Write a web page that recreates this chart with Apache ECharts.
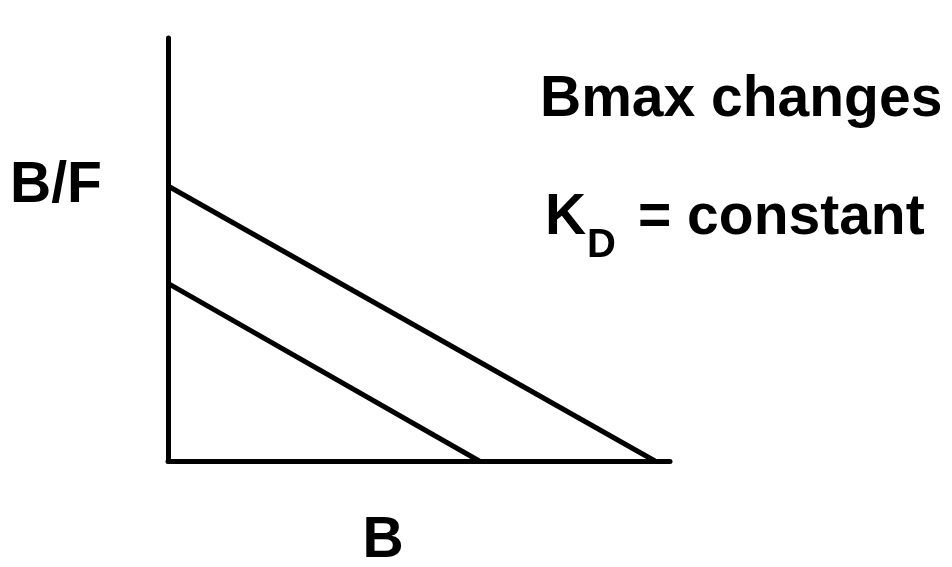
<!DOCTYPE html>
<html><head><meta charset="utf-8">
<script src="https://cdn.jsdelivr.net/npm/echarts@6/dist/echarts.min.js"></script>
<style>html,body{margin:0;padding:0;background:#fff}#c{width:952px;height:567px}</style>
</head><body><div id="c"></div>
<script>
// Scatchard plot: two parallel lines (K_D constant, Bmax changes)
const upperB = [0, 97];
const upperBF = [65, 0];
const lowerB = [0, 62];
const lowerBF = [42, 0];
const xLabel = 'B';
const yLabel = 'B/F';
const note1 = 'Bmax changes';
const note2K = 'K';
const note2Sub = 'D';
const note2Rest = '= constant';

const pts = (xs, ys) => xs.map((x, i) => [x, ys[i]]);
const font = '"Liberation Sans", Arial, Helvetica, sans-serif';
const chart = echarts.init(document.getElementById('c'), null, {renderer: 'canvas'});
const lineW = 5;
const axisCommon = {
  type: 'value', min: 0, max: 100,
  axisLine: {show: true, onZero: false, lineStyle: {color: '#000', width: lineW}},
  axisTick: {show: false}, axisLabel: {show: false}, splitLine: {show: false}
};
const txt = (size) => ({font: 'bold ' + size + 'px ' + font, fill: '#000', verticalAlign: 'middle'});
chart.setOption({
  backgroundColor: '#fff',
  animation: false,
  grid: {left: 168, right: 282, top: 38, bottom: 106},
  xAxis: Object.assign({}, axisCommon),
  yAxis: Object.assign({}, axisCommon),
  series: [
    {type: 'line', data: pts(upperB, upperBF), symbol: 'none', lineStyle: {color: '#000', width: lineW}},
    {type: 'line', data: pts(lowerB, lowerBF), symbol: 'none', lineStyle: {color: '#000', width: lineW}}
  ],
  graphic: [
    {type: 'text', x: 10, y: 186, style: Object.assign({text: yLabel}, txt(57))},
    {type: 'text', x: 383, y: 541, style: Object.assign({text: xLabel, align: 'center'}, txt(57))},
    {type: 'text', x: 540, y: 100, style: Object.assign({text: note1}, txt(57))},
    {type: 'text', x: 545, y: 218, style: Object.assign({text: note2K}, txt(57))},
    {type: 'text', x: 587, y: 246, style: Object.assign({text: note2Sub}, txt(40))},
    {type: 'text', x: 638, y: 218, style: Object.assign({text: note2Rest}, txt(57))}
  ]
});
</script></body></html>
